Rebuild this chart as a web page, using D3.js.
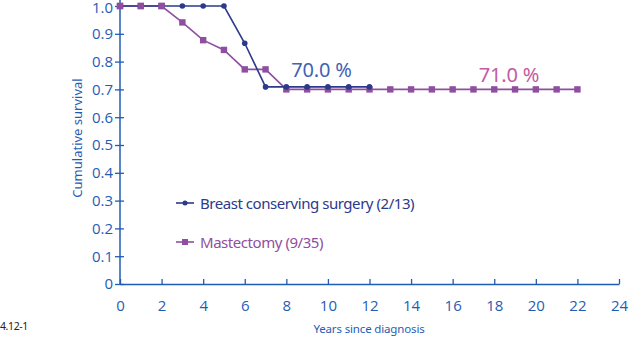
<!DOCTYPE html>
<html><head><meta charset="utf-8">
<script src="https://cdn.jsdelivr.net/npm/d3@7"></script>
<style>body{margin:0;background:#fff}svg{display:block}text{font-family:"Noto Sans",sans-serif}</style>
</head><body>
<svg id="c" width="629" height="339"></svg>
<script>
const bcsYears = [0,1,2,3,4,5,6,7,8,9,10,11,12];
const bcsSurvival = [1,1,1,1,1,1,0.866,0.709,0.709,0.709,0.709,0.709,0.709];
const mastYears = [0,1,2,3,4,5,6,7,8,9,10,11,12,13,14,15,16,17,18,19,20,21,22];
const mastSurvival = [1,1,1,0.941,0.877,0.842,0.772,0.772,0.700,0.700,0.700,0.700,0.700,0.700,0.700,0.700,0.700,0.700,0.700,0.700,0.700,0.700,0.700];
const xTicks = [0,2,4,6,8,10,12,14,16,18,20,22,24];
const yTicks = [0,0.1,0.2,0.3,0.4,0.5,0.6,0.7,0.8,0.9,1.0];
const legendLabels = ["Breast conserving surgery (2/13)","Mastectomy (9/35)"];
const annotations = ["70.0 %","71.0 %"];

const axisColor = "#1f5db4", bcsColor = "#2b3a8a", mastColor = "#8f4fa0";
const svg = d3.select("#c");
const x = d3.scaleLinear().domain([0,24]).range([120,619]);
const y = d3.scaleLinear().domain([0,1]).range([284,6]);

// y axis
const ya = svg.append("g").attr("transform","translate(120,0)")
  .call(d3.axisLeft(y).tickValues(yTicks).tickSize(5).tickSizeOuter(0)
    .tickFormat(d => d===0 ? "0" : d3.format(".1f")(d)));
ya.select(".domain").attr("stroke",axisColor).attr("stroke-width",1.5).attr("d","M0,0V284");
ya.selectAll(".tick line").attr("stroke",axisColor).attr("stroke-width",1.3).attr("x1",4);
ya.selectAll(".tick text").attr("fill",axisColor).attr("font-size",15).attr("x",-7)
  .attr("y",d => d===1 ? 1.5 : 0)
  .style("font-family","'Open Sans',sans-serif");

// x axis
const xa = svg.append("g").attr("transform","translate(0,284)")
  .call(d3.axisBottom(x).tickValues(xTicks).tickSize(-5).tickSizeOuter(0));
xa.select(".domain").attr("stroke",axisColor).attr("stroke-width",1.5);
xa.selectAll(".tick line").attr("stroke",axisColor).attr("stroke-width",1.3);
xa.selectAll(".tick text").attr("fill",axisColor).attr("font-size",15).attr("y",16)
  .style("font-family","'Open Sans',sans-serif");

// axis titles
svg.append("text").attr("x",369).attr("y",333).attr("text-anchor","middle")
  .attr("fill",axisColor).attr("font-size",11.5).attr("letter-spacing",-0.15).text("Years since diagnosis");
svg.append("text").attr("transform","translate(82,138) rotate(-90)").attr("text-anchor","middle")
  .attr("fill",axisColor).attr("font-size",13).text("Cumulative survival");
svg.append("text").attr("x",0).attr("y",330).attr("fill","#222").attr("font-size",10.5)
  .attr("letter-spacing",-0.4).text("4.12-1");

const line = d3.line().x(d=>x(d[0])).y(d=>y(d[1]));
const bcs = bcsYears.map((v,i)=>[v,bcsSurvival[i]]);
const mast = mastYears.map((v,i)=>[v,mastSurvival[i]]);

svg.append("path").datum(mast).attr("d",line).attr("fill","none").attr("stroke",mastColor).attr("stroke-width",1.6);
svg.selectAll(".ms").data(mast).join("rect").attr("x",d=>x(d[0])-3.2).attr("y",d=>y(d[1])-3.2)
  .attr("width",6.4).attr("height",6.4).attr("fill",mastColor);
svg.append("path").datum(bcs).attr("d",line).attr("fill","none").attr("stroke",bcsColor).attr("stroke-width",1.6);
svg.selectAll(".bc").data(bcs.filter(d=>d[0]>2)).join("circle").attr("cx",d=>x(d[0])).attr("cy",d=>y(d[1]))
  .attr("r",2.8).attr("fill",bcsColor);
// purple squares at years 0-2 on top (they cover blue dots in reference)
svg.selectAll(".ms2").data(mast.slice(0,3)).join("rect").attr("x",d=>x(d[0])-3.2).attr("y",d=>y(d[1])-3.2)
  .attr("width",6.4).attr("height",6.4).attr("fill",mastColor);

// annotations
svg.append("text").attr("x",321.5).attr("y",77).attr("text-anchor","middle").attr("fill","#3f63b3")
  .attr("font-size",20).attr("letter-spacing",-0.2).text(annotations[0]);
svg.append("text").attr("x",509).attr("y",82).attr("text-anchor","middle").attr("fill","#c35aa3")
  .attr("font-size",20).attr("letter-spacing",-0.2).text(annotations[1]);

// legend
const lg = [[bcsColor,"c",203,208.5],[mastColor,"s",242,247.5]];
lg.forEach((l,i)=>{
  svg.append("line").attr("x1",176).attr("x2",194).attr("y1",l[2]).attr("y2",l[2]).attr("stroke",l[0]).attr("stroke-width",1.6);
  if(l[1]==="c") svg.append("circle").attr("cx",185).attr("cy",l[2]).attr("r",2.5).attr("fill",l[0]);
  else svg.append("rect").attr("x",182).attr("y",l[2]-3).attr("width",6).attr("height",6).attr("fill",l[0]);
  svg.append("text").attr("x",200).attr("y",l[3]).attr("fill",l[0]).attr("font-size",15)
    .attr("letter-spacing",-0.45).text(legendLabels[i]);
});
</script>
</body></html>
